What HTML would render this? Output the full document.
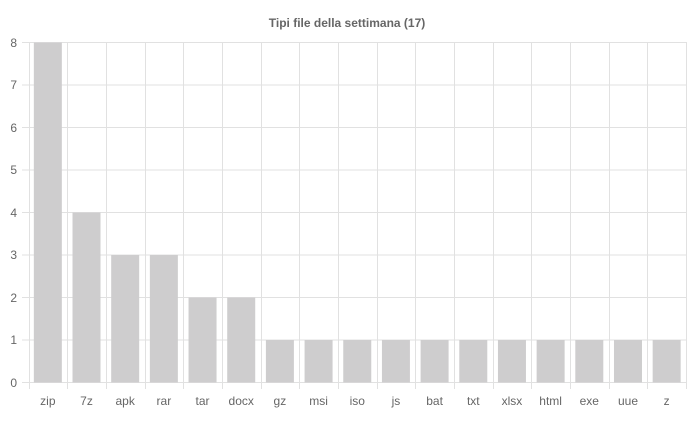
<!DOCTYPE html>
<html><head><meta charset="utf-8"><style>body{margin:0;background:#fff}svg{display:block}</style></head><body>
<svg width="693" height="421" xmlns="http://www.w3.org/2000/svg" font-family="Liberation Sans, sans-serif">
<text x="347" y="27" text-anchor="middle" font-size="12" font-weight="bold" fill="#666">Tipi file della settimana (17)</text>
<g stroke="#e1e1e1" stroke-width="1">
<line x1="22" y1="42.5" x2="686" y2="42.5"/>
<line x1="22" y1="85" x2="686" y2="85"/>
<line x1="22" y1="127.5" x2="686" y2="127.5"/>
<line x1="22" y1="170" x2="686" y2="170"/>
<line x1="22" y1="212.5" x2="686" y2="212.5"/>
<line x1="22" y1="255" x2="686" y2="255"/>
<line x1="22" y1="297.5" x2="686" y2="297.5"/>
<line x1="22" y1="340" x2="686" y2="340"/>
<line x1="22" y1="382.5" x2="686" y2="382.5"/>
</g>
<g id="v" stroke="#e1e1e1"></g>
<g id="b"></g>
<g font-size="12" fill="#666" text-anchor="end">
<text x="17" y="47">8</text><text x="17" y="89">7</text><text x="17" y="132">6</text><text x="17" y="174">5</text><text x="17" y="217">4</text><text x="17" y="259">3</text><text x="17" y="302">2</text><text x="17" y="344">1</text><text x="17" y="387">0</text>
</g>
<g id="l" font-size="12" fill="#666" text-anchor="middle"></g>
<script>
var labs=["zip","7z","apk","rar","tar","docx","gz","msi","iso","js","bat","txt","xlsx","html","exe","uue","z"];
var vals=[8,4,3,3,2,2,1,1,1,1,1,1,1,1,1,1,1];
var x0=28.5,w=(686-28.5)/17,ns="http://www.w3.org/2000/svg";
var v=document.getElementById("v"),b=document.getElementById("b"),l=document.getElementById("l");
for(var i=0;i<=17;i++){var x=Math.round(x0+i*w)+0.5;var ln=document.createElementNS(ns,"line");ln.setAttribute("x1",x);ln.setAttribute("x2",x);ln.setAttribute("y1",42);ln.setAttribute("y2",389);v.appendChild(ln);}
for(var i=0;i<17;i++){var cx=x0+(i+0.5)*w;var h=vals[i]*42.5;var r=document.createElementNS(ns,"rect");r.setAttribute("x",cx-14);r.setAttribute("y",382.5-h);r.setAttribute("width",28);r.setAttribute("height",h);r.setAttribute("fill","#cecdce");b.appendChild(r);
var t=document.createElementNS(ns,"text");t.setAttribute("x",cx);t.setAttribute("y",405);t.textContent=labs[i];l.appendChild(t);}
</script>
</svg>
</body></html>
